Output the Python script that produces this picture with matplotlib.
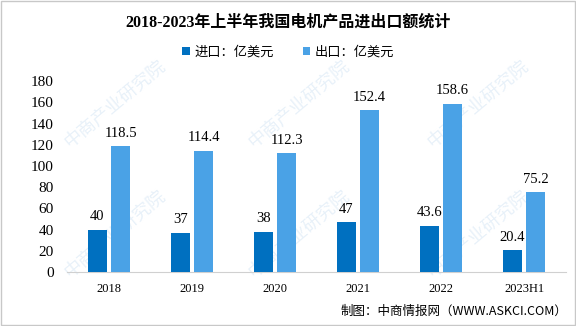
import matplotlib
matplotlib.use("Agg")
import matplotlib.pyplot as plt
import numpy as np
from matplotlib.patches import Rectangle

plt.rcParams['font.family'] = ['Liberation Serif', 'Noto Sans CJK SC', 'DejaVu Sans']

years = ["2018", "2019", "2020", "2021", "2022", "2023H1"]
imports = [40, 37, 38, 47, 43.6, 20.4]
exports = [118.5, 114.4, 112.3, 152.4, 158.6, 75.2]
import_labels = ["40", "37", "38", "47", "43.6", "20.4"]
export_labels = ["118.5", "114.4", "112.3", "152.4", "158.6", "75.2"]

c_imp = "#0070C0"
c_exp = "#4AA2E6"

fig = plt.figure(figsize=(5.76, 3.26), dpi=100)
fig.patches.append(Rectangle((0.002, 0.003), 0.996, 0.994, transform=fig.transFigure,
                             fill=False, edgecolor="#c8c8c8", linewidth=1))

# faint watermark behind the plot
for wx, wy in [(0.2, 0.68), (0.52, 0.68), (0.83, 0.68), (0.2, 0.28), (0.52, 0.28), (0.83, 0.28)]:
    fig.text(wx, wy, "中商产业研究院", fontsize=13, color="#e8f1f9", rotation=40,
             ha="center", va="center", family="Noto Sans CJK SC", zorder=-1)

ax = fig.add_axes([0.117, 0.166, 0.865, 0.585])
x = np.arange(len(years))
w = 0.23
off = 0.14
b1 = ax.bar(x - off, imports, w, color=c_imp, label="进口：亿美元", zorder=3)
b2 = ax.bar(x + off, exports, w, color=c_exp, label="出口：亿美元", zorder=3)

for rect, t in zip(b1, import_labels):
    ax.text(rect.get_x() + rect.get_width() / 2, rect.get_height() + 6, t,
            ha="center", va="bottom", fontsize=10.5)
for rect, t in zip(b2, export_labels):
    ax.text(rect.get_x() + rect.get_width() / 2, rect.get_height() + 6, t,
            ha="center", va="bottom", fontsize=10.5)

ax.set_xlim(-0.5, 5.5)
ax.set_ylim(0, 180)
ax.set_yticks(range(0, 181, 20))
ax.set_xticks(x)
ax.set_xticklabels(years, fontsize=9)
ax.tick_params(axis="y", labelsize=11, length=0, pad=10)
ax.tick_params(axis="x", length=0, pad=8)
ax.patch.set_alpha(0)
for s in ["top", "right", "left"]:
    ax.spines[s].set_visible(False)
ax.spines["bottom"].set_color("#d0d0d0")

fig.text(0.5, 0.93, "2018-2023年上半年我国电机产品进出口额统计", ha="center", va="center",
         fontsize=11.5, fontweight="bold", family=["Liberation Serif", "Noto Sans CJK SC"])
fig.legend(handles=[b1, b2], loc="center", bbox_to_anchor=(0.5, 0.84), ncol=2,
           frameon=False, handlelength=0.6, handleheight=0.6,
           columnspacing=2.2, handletextpad=0.3,
           prop={"family": ["Noto Sans CJK SC"], "size": 9.5})
fig.text(0.985, 0.045, "制图：中商情报网（WWW.ASKCI.COM）", ha="right", va="center",
         fontsize=9, family=["Noto Sans CJK SC"])

fig.savefig("out.png", dpi=100)
